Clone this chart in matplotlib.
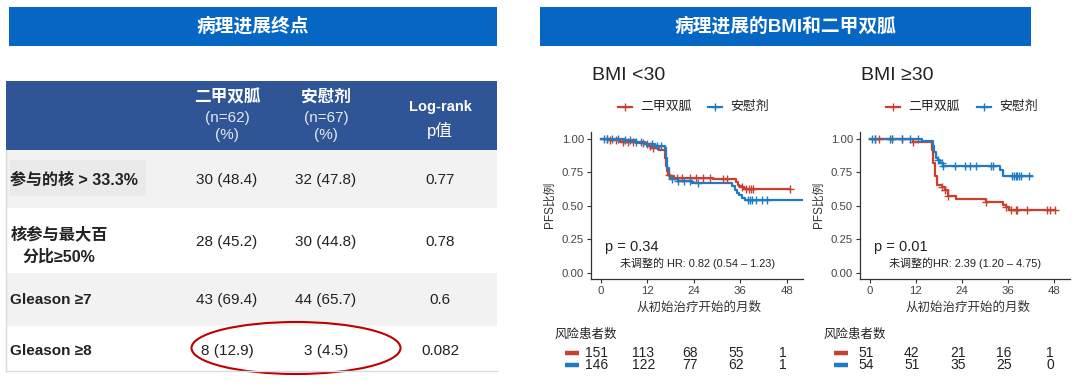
import matplotlib
matplotlib.use('Agg')
import matplotlib.pyplot as plt
import matplotlib.transforms as mtransforms
from matplotlib.patches import Rectangle, Ellipse
import numpy as np

# ---------------- data ----------------
left_title = '病理进展终点'
right_title = '病理进展的BMI和二甲双胍'

table_cols = ['二甲双胍', '安慰剂']
table_n = ['(n=62)', '(n=67)']
row_labels = ['参与的核 > 33.3%', '核参与最大百\n分比≥50%', 'Gleason ≥7', 'Gleason ≥8']
met_vals = ['30 (48.4)', '28 (45.2)', '43 (69.4)', '8 (12.9)']
pla_vals = ['32 (47.8)', '30 (44.8)', '44 (65.7)', '3 (4.5)']
p_vals = ['0.77', '0.78', '0.6', '0.082']

series_names = ['二甲双胍', '安慰剂']
month_ticks = [0, 12, 24, 36, 48]
pfs_ticks = [0.00, 0.25, 0.50, 0.75, 1.00]

# BMI < 30
lt30_met_t = [0, 2, 5, 9, 12, 13, 15, 16.5, 16.8, 17.1, 17.4, 18, 19, 29, 34.8, 35.3, 35.8, 36.5, 37]
lt30_met_s = [1.00, 0.99, 0.98, 0.97, 0.95, 0.93, 0.92, 0.86, 0.80, 0.76, 0.73, 0.72, 0.71, 0.70, 0.68, 0.66, 0.65, 0.64, 0.63]
lt30_met_end = 48.8
lt30_met_cens = [1.5, 2.5, 4, 5.8, 7, 8.3, 11, 12.7, 13.5, 17.5, 19.6, 21, 23, 24.5, 26.4, 28.1,
                 31.6, 32.5, 36.5, 37.6, 38.2, 38.8, 39.3, 48.8]
lt30_pla_t = [0, 6, 9, 11.5, 14, 16.5, 16.9, 17.2, 17.6, 18.2, 20, 23.5, 34, 34.6, 35.2, 35.8, 36.4, 37.2]
lt30_pla_s = [1.00, 0.99, 0.98, 0.96, 0.95, 0.93, 0.86, 0.78, 0.72, 0.70, 0.69, 0.67, 0.65, 0.62, 0.60, 0.58, 0.56, 0.545]
lt30_pla_end = 52.0
lt30_pla_cens = [0.8, 1.5, 3, 4.5, 6.2, 7.5, 9, 10.5, 12, 13.3, 14.5, 15.5, 18.5, 20, 21.5, 23, 25,
                 37.9, 38.4, 39, 40, 41.5, 43]
lt30_p = 'p = 0.34'
lt30_hr = '未调整的 HR: 0.82 (0.54 – 1.23)'
lt30_risk_met = [151, 113, 68, 55, 1]
lt30_risk_pla = [146, 122, 77, 62, 1]

# BMI >= 30
ge30_met_t = [0, 11.4, 16.2, 16.6, 17.0, 17.5, 18.8, 19.6, 20.4, 22.6, 30.4, 34.7, 35.5, 36.4]
ge30_met_s = [1.00, 0.98, 0.92, 0.82, 0.72, 0.66, 0.64, 0.62, 0.575, 0.553, 0.527, 0.51, 0.495, 0.47]
ge30_met_end = 48.4
ge30_met_cens = [1.5, 2.4, 5.9, 8.4, 11.4, 18.8, 19.6, 20.5, 30.4, 35.5, 36.8, 38.1, 38.5, 41.1, 46.3, 47.1, 48.4]
ge30_pla_t = [0, 13.6, 16.4, 16.8, 17.3, 17.8, 18.4, 19.0, 33.9, 34.8]
ge30_pla_s = [1.00, 0.985, 0.95, 0.90, 0.86, 0.84, 0.82, 0.80, 0.77, 0.72]
ge30_pla_end = 42.2
ge30_pla_cens = [0.7, 1.5, 5.4, 5.9, 8.4, 10.6, 12.7, 17.9, 18.8, 19.2, 22.2, 24.8, 26.1, 27.8, 31.7, 32.1,
                 37.2, 37.7, 38.1, 38.5, 39.0, 39.4, 41.5]
ge30_p = 'p = 0.01'
ge30_hr = '未调整的HR: 2.39 (1.20 – 4.75)'
ge30_risk_met = [51, 42, 21, 16, 1]
ge30_risk_pla = [54, 51, 35, 25, 0]

# ---------------- style ----------------
RED = '#c9402f'
BLUE = '#1f7bc4'
BAR_BLUE = '#0566c4'
HEAD_BLUE = '#2f5597'
GRAY_ROW = '#f2f2f2'
MIX = ['Liberation Sans', 'Noto Sans CJK SC', 'DejaVu Sans']
CJK = ['Noto Sans CJK SC', 'DejaVu Sans']
TXT = '#222222'

W, H = 1080, 388
fig = plt.figure(figsize=(W / 100, H / 100), dpi=100)
bg = fig.add_axes([0, 0, 1, 1])
bg.set_xlim(0, W)
bg.set_ylim(H, 0)
bg.axis('off')

# title bars
bg.add_patch(Rectangle((9, 7), 488, 39, color=BAR_BLUE, lw=0))
bg.add_patch(Rectangle((540, 7), 491, 39, color=BAR_BLUE, lw=0))
bg.text(253, 26.5, left_title, ha='center', va='center', color='white', fontsize=13.5,
        fontweight='bold', family=MIX)
bg.text(785, 26.5, right_title, ha='center', va='center', color='white', fontsize=13.5,
        fontweight='bold', family=MIX)

# ---------------- table ----------------
bg.add_patch(Rectangle((6, 81), 491, 69, color=HEAD_BLUE, lw=0))
row_bounds = [(150, 208), (208, 273), (273, 326), (326, 371)]
row_colors = [GRAY_ROW, 'white', GRAY_ROW, 'white']
for (y0, y1), c in zip(row_bounds, row_colors):
    bg.add_patch(Rectangle((6, y0), 491, y1 - y0, color=c, lw=0))
bg.add_patch(Rectangle((10, 160), 136, 36, color='#eaeaea', lw=0))
bg.plot([6, 6], [150, 371], color='#d6dbe4', lw=1)
bg.plot([6, 497], [371, 371], color='#d6dbe4', lw=1)

col_x = [227, 326, 440]
for x, name, n in zip(col_x[:2], table_cols, table_n):
    bg.text(x, 97, name, ha='center', va='center', color='white', fontsize=12,
            fontweight='bold', family=CJK)
    bg.text(x, 118, n, ha='center', va='center', color='#e6e9f0', fontsize=11, family=MIX)
    bg.text(x, 135, '(%)', ha='center', va='center', color='#e6e9f0', fontsize=11, family=MIX)
bg.text(col_x[2], 107, 'Log-rank', ha='center', va='center', color='white', fontsize=10.5,
        fontweight='bold', family=MIX)
bg.text(col_x[2], 130, 'p值', ha='center', va='center', color='white', fontsize=12, family=MIX)

row_y = [180, 242, 300, 351]
for y, lab, mv, pv, pp in zip(row_y, row_labels, met_vals, pla_vals, p_vals):
    if '\n' in lab:
        l1, l2 = lab.split('\n')
        bg.text(59, y - 7, l1, ha='center', va='center', color=TXT, fontsize=11.7,
                fontweight='bold', family=MIX)
        bg.text(59, y + 15, l2, ha='center', va='center', color=TXT, fontsize=11.5,
                fontweight='bold', family=MIX)
    else:
        fs = 11 if lab.startswith('Gleason') else 11.5
        bg.text(10, y, lab, ha='left', va='center', color=TXT, fontsize=fs,
                fontweight='bold', family=MIX)
    bg.text(col_x[0], y, mv, ha='center', va='center', color=TXT, fontsize=11, family=MIX)
    bg.text(col_x[1], y, pv, ha='center', va='center', color=TXT, fontsize=11, family=MIX)
    bg.text(col_x[2], y, pp, ha='center', va='center', color=TXT, fontsize=11, family=MIX)

bg.add_patch(Ellipse((296, 348), 209, 52, fill=False, ec='#c00000', lw=1.5))


# ---------------- KM panels ----------------
def step_val(times, surv, t):
    i = np.searchsorted(np.asarray(times), t, side='right') - 1
    return surv[max(i, 0)]


def km_panel(px0, px1, title, curves, ptxt, hrtxt, risks, leg_pos, risk_bar_x):
    top, bot = 132, 279
    ax = fig.add_axes([px0 / W, (H - bot) / H, (px1 - px0) / W, (bot - top) / H])
    ax.set_facecolor('none')
    for (t, s, end, cens, col) in curves:
        ax.step(list(t) + [end], list(s) + [s[-1]], where='post', color=col, lw=1.6, zorder=3)
        cy = [step_val(t, s, c) for c in cens]
        ax.plot(cens, cy, ls='none', marker='+', ms=6, mew=1.0, color=col, zorder=4)
    ax.set_xlim(-2.5, 52.2)
    ax.set_ylim(-0.045, 1.052)
    ax.set_xticks(month_ticks)
    ax.set_yticks(pfs_ticks)
    ax.set_yticklabels([f'{v:.2f}' for v in pfs_ticks])
    for side in ['top', 'right']:
        ax.spines[side].set_visible(False)
    for side in ['left', 'bottom']:
        ax.spines[side].set_color('#333333')
        ax.spines[side].set_linewidth(0.9)
    ax.tick_params(colors='#333333', labelcolor='#444444', labelsize=8.2, length=3, width=0.8, pad=2)
    for lab in ax.get_xticklabels() + ax.get_yticklabels():
        lab.set_family(MIX)

    # title / labels
    bg.text(px0 + 1, 75, title, ha='left', va='center', color=TXT, fontsize=14, family=MIX)
    bg.text(px0 - 41, 205, 'PFS比例', ha='center', va='center', rotation=90, color='#333333',
            fontsize=8.5, family=MIX)
    bg.text(px0 + 108, 308, '从初始治疗开始的月数', ha='center', va='center', color='#333333',
            fontsize=9, family=MIX)
    bg.text(px0 + 14, 247, ptxt, ha='left', va='center', color=TXT, fontsize=10.5, family=MIX)
    bg.text(px0 + 29, 263, hrtxt, ha='left', va='center', color=TXT, fontsize=7.9, family=MIX)

    # legend
    for (lx, col, name) in zip(leg_pos, [RED, BLUE], series_names):
        bg.plot([lx - 7, lx + 7], [107, 107], color=col, lw=1.6)
        bg.plot([lx], [107], marker='+', ms=6, mew=1.0, color=col)
        bg.text(lx + 15, 107, name, ha='left', va='center', color=TXT, fontsize=9.3, family=MIX)

    # risk table
    bg.text(risk_bar_x - 10, 335, '风险患者数', ha='left', va='center', color=TXT, fontsize=9,
            family=MIX)
    tr = mtransforms.blended_transform_factory(ax.transData, bg.transData)
    for (vals, col, y) in zip(risks, [RED, BLUE], [353, 365]):
        bg.plot([risk_bar_x, risk_bar_x + 14], [y, y], color=col, lw=3.2, solid_capstyle='butt')
        for t, v in zip(month_ticks, vals):
            fig.text(t - 1.0, y, str(v), transform=tr, ha='center', va='center', color=TXT,
                     fontsize=10, family=MIX)
    return ax


km_panel(591, 803, 'BMI <30',
         [(lt30_met_t, lt30_met_s, lt30_met_end, lt30_met_cens, RED),
          (lt30_pla_t, lt30_pla_s, lt30_pla_end, lt30_pla_cens, BLUE)],
         lt30_p, lt30_hr, [lt30_risk_met, lt30_risk_pla], [625, 715], 565)

km_panel(860, 1070, 'BMI ≥30',
         [(ge30_met_t, ge30_met_s, ge30_met_end, ge30_met_cens, RED),
          (ge30_pla_t, ge30_pla_s, ge30_pla_end, ge30_pla_cens, BLUE)],
         ge30_p, ge30_hr, [ge30_risk_met, ge30_risk_pla], [893, 984], 834)

fig.savefig('out.png', dpi=100)
